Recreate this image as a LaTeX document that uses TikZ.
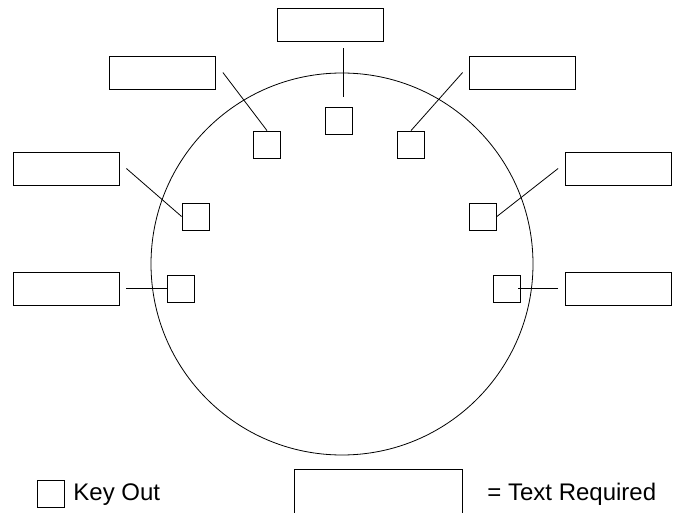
\documentclass[tikz,border=0pt]{standalone}
\usepackage{fontspec}
\setmainfont{Liberation Sans}
\usepackage{tikz}
\usetikzlibrary{positioning}

\begin{document}
\begin{tikzpicture}[x=1pt,y=-1pt,line width=0.8pt,
    lbl/.style={draw, minimum width=106pt, minimum height=33pt, inner sep=0pt},
    key/.style={draw, minimum size=27pt, inner sep=0pt},
    txt/.style={anchor=base west, inner sep=0pt, font=\fontsize{24}{28}\selectfont}]
    \clip (0,0) rectangle (680,513);

    \draw (342,264) circle[radius=191pt];

    \node[lbl] (lt) at (330, 24.5) {};
    \node[lbl] (lul) at (162.5, 72.5) {};
    \node[lbl] (lur) at (522, 72.5) {};
    \node[lbl] (ll) at (66, 168.5) {};
    \node[lbl] (lr) at (618.5, 168.5) {};
    \node[lbl] (llb) at (66, 288.5) {};
    \node[lbl] (lrb) at (618.5, 288.5) {};

    \node[key] (k0) at (339, 120.5) {};
    \node[key] (kul) at (267, 144.5) {};
    \node[key] (kur) at (411, 144.5) {};
    \node[key] (kl) at (195.5, 216.5) {};
    \node[key] (kr) at (483, 216.5) {};
    \node[key] (klb) at (181, 288.5) {};
    \node[key] (krb) at (507, 288.5) {};

    \path
        ([shift={(13,7)}]lt.south) edge[draw] ([shift={(4,-10)}]k0.north)
        ([xshift=7pt]lul.east) edge[draw] (kul.north)
        ([xshift=-6pt]lur.west) edge[draw] (kur.north)
        ([xshift=7pt]ll.east) edge[draw] (kl.west)
        ([xshift=-7pt]lr.west) edge[draw] (kr.east)
        ([xshift=7pt]llb.east) edge[draw] (klb.west)
        ([xshift=-7pt]lrb.west) edge[draw] ([xshift=-3pt]krb.east);

    % legend
    \node[key] (kkey) at (50.5, 493.5) {};
    \node[txt] (tkey) at (73, 500) {Key Out};
    \node[draw, minimum width=168pt, minimum height=91pt, inner sep=0pt] (ltext) at (378, 514.5) {};
    \node[txt] (ttext) at (487, 500) {= Text Required};
\end{tikzpicture}
\end{document}
